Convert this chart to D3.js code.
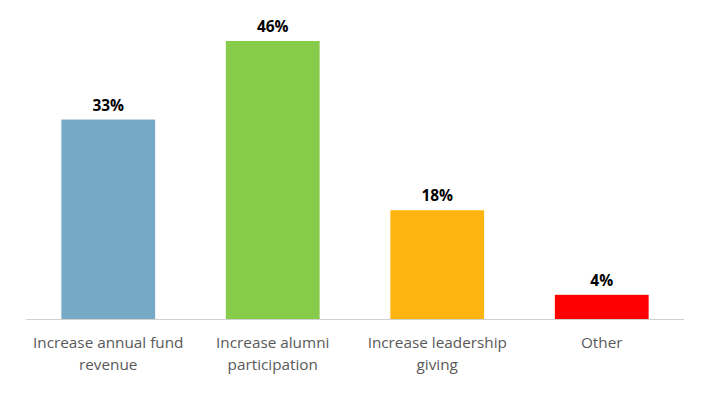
<!DOCTYPE html>
<html lang="en">
<head>
    <meta charset="UTF-8" />
    <script src="https://d3js.org/d3.v7.min.js"></script>
    <style>
        body {
            margin: 0;
            overflow: hidden;
            background: white;
        }
        .cat {
            font-family: "Open Sans", sans-serif;
            font-size: 15.3px;
            fill: #595959;
        }
        .val {
            font-family: "Open Sans", sans-serif;
            font-size: 15.5px;
            font-weight: bold;
            fill: #000;
        }
    </style>
</head>
<body>
    <script>
        // chart data
        const categories = [
            ["Increase annual fund", "revenue"],
            ["Increase alumni", "participation"],
            ["Increase leadership", "giving"],
            ["Other"]
        ];
        const values = [33, 46, 18, 4];
        const valueLabels = ["33%", "46%", "18%", "4%"];
        const colors = ["#77a9c6", "#86cc4a", "#ffb511", "#ff0000"];

        const width = 723;
        const height = 397;

        const svg = d3.select('body')
            .append('svg')
            .attr('width', width)
            .attr('height', height);

        const margin = { left: 26, right: 39, base: 319 };

        const x = d3.scaleBand()
            .domain(d3.range(values.length))
            .range([margin.left, width - margin.right])
            .paddingInner(0.43)
            .paddingOuter(0.215);

        const y = d3.scaleLinear()
            .domain([0, 46])
            .range([margin.base, 41]);

        svg.selectAll('rect.bar')
            .data(values)
            .join('rect')
            .attr('class', 'bar')
            .attr('x', (d, i) => x(i))
            .attr('y', d => y(d))
            .attr('width', x.bandwidth())
            .attr('height', d => y(0) - y(d))
            .attr('fill', (d, i) => colors[i]);

        // baseline
        svg.append('line')
            .attr('x1', margin.left)
            .attr('x2', width - margin.right)
            .attr('y1', y(0) + 0.5)
            .attr('y2', y(0) + 0.5)
            .attr('stroke', '#d0d0d0')
            .attr('stroke-width', 1);

        // value labels
        svg.selectAll('text.val')
            .data(values)
            .join('text')
            .attr('class', 'val')
            .attr('text-anchor', 'middle')
            .attr('x', (d, i) => x(i) + x.bandwidth() / 2)
            .attr('y', d => y(d) - 9)
            .text((d, i) => valueLabels[i]);

        // category labels, wrapped
        const cat = svg.selectAll('text.cat')
            .data(categories)
            .join('text')
            .attr('class', 'cat')
            .attr('text-anchor', 'middle')
            .attr('x', (d, i) => x(i) + x.bandwidth() / 2)
            .attr('y', y(0) + 29);

        cat.selectAll('tspan')
            .data(d => d)
            .join('tspan')
            .attr('x', function () { return this.parentNode.getAttribute('x'); })
            .attr('dy', (d, i) => i === 0 ? 0 : 22)
            .text(d => d);
    </script>
</body>
</html>
